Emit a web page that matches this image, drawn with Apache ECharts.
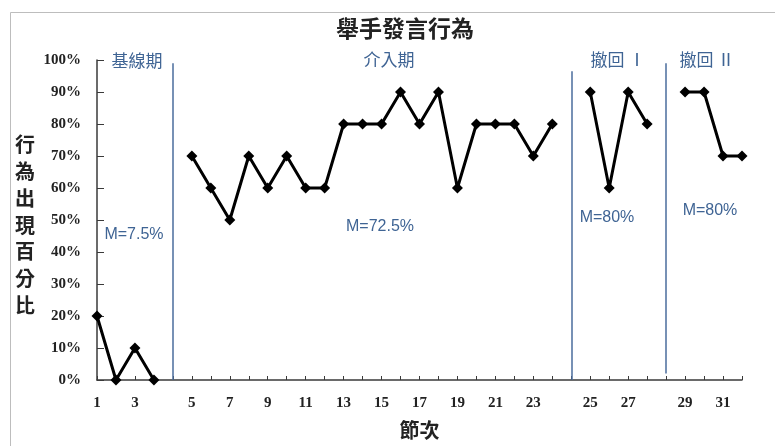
<!DOCTYPE html>
<html>
<head>
<meta charset="utf-8">
<script src="https://cdn.jsdelivr.net/npm/echarts@6/dist/echarts.min.js"></script>
<style>
  html, body { margin: 0; padding: 0; background: #fff; }
  #chart { width: 775px; height: 446px; }
</style>
</head>
<body>
<div id="chart"></div>
<script>
// Session numbers and percentages for each phase of the single-case design
const baselineSessions = [1, 2, 3, 4];
const baselineValues = [20, 0, 10, 0];

const interventionSessions = [5, 6, 7, 8, 9, 10, 11, 12, 13, 14, 15, 16, 17, 18, 19, 20, 21, 22, 23, 24];
const interventionValues = [70, 60, 50, 70, 60, 70, 60, 60, 80, 80, 80, 90, 80, 90, 60, 80, 80, 80, 70, 80];

const withdrawal1Sessions = [25, 26, 27, 28];
const withdrawal1Values = [90, 60, 90, 80];

const withdrawal2Sessions = [29, 30, 31, 32];
const withdrawal2Values = [90, 90, 70, 70];

const phaseNames = ['基線期', '介入期', '撤回 Ⅰ', '撤回 Ⅱ'];
const yTicks = [0, 10, 20, 30, 40, 50, 60, 70, 80, 90, 100];

const phases = [
  { sessions: baselineSessions, values: baselineValues },
  { sessions: interventionSessions, values: interventionValues },
  { sessions: withdrawal1Sessions, values: withdrawal1Values },
  { sessions: withdrawal2Sessions, values: withdrawal2Values }
];

// Build one category axis with an empty slot between phases; the line breaks there.
const categories = [];
const seriesData = [];
const breakIndex = [];
phases.forEach((p, i) => {
  if (i > 0) {
    breakIndex.push(categories.length);
    categories.push(' '.repeat(i));
    seriesData.push(null);
  }
  p.sessions.forEach((s, j) => {
    categories.push(String(s));
    seriesData.push(p.values[j]);
  });
});

const means = phases.map(p => p.values.reduce((a, b) => a + b, 0) / p.values.length);

// Phase divider lines: top and bottom value of each one
const dividerTops = [99, 96.5, 99];
const dividerBottoms = [0, 0, 2];
const dividerColor = '#4a6c9c';
const labelColor = '#3f6494';

const chart = echarts.init(document.getElementById('chart'), null, { renderer: 'canvas' });

const cjk = '"Noto Sans CJK TC", "Noto Sans CJK SC", sans-serif';
const serif = '"Liberation Serif", "DejaVu Serif", serif';
const sans = '"Liberation Sans", Arial, sans-serif';

const phaseLabelPos = [[137, 61], [389, 60], [618, 60], [707, 60]];
const meanLabelPos = [[134, 235], [380, 227], [607, 218], [710, 211]];

const option = {
  animation: false,
  backgroundColor: '#fff',
  grid: { left: 97, right: 33, top: 60, bottom: 66, containLabel: false, outerBoundsMode: 'none' },
  xAxis: {
    type: 'category',
    data: categories,
    boundaryGap: false,
    name: '節次',
    nameLocation: 'middle',
    nameGap: 40,
    nameTextStyle: { fontFamily: cjk, fontSize: 20, fontWeight: 'bold', color: '#222' },
    axisLine: { lineStyle: { color: '#3a3a3a', width: 1.5 } },
    axisTick: { show: true, inside: true, length: 4, interval: 0, lineStyle: { color: '#3a3a3a', width: 1 } },
    axisLabel: {
      interval: (idx, val) => Number(val) % 2 === 1,
      margin: 16,
      fontFamily: serif,
      fontSize: 15,
      fontWeight: 'bold',
      color: '#222'
    },
    splitLine: { show: false }
  },
  yAxis: {
    type: 'value',
    min: yTicks[0],
    max: yTicks[yTicks.length - 1],
    interval: yTicks[1] - yTicks[0],
    axisLine: { show: true, lineStyle: { color: '#3a3a3a', width: 1.5 } },
    axisTick: { show: true, inside: true, length: 7, lineStyle: { color: '#3a3a3a', width: 1 } },
    axisLabel: {
      formatter: '{value}%',
      margin: 16,
      fontFamily: serif,
      fontSize: 15,
      fontWeight: 'bold',
      color: '#222'
    },
    splitLine: { show: false }
  },
  series: [{
    type: 'line',
    data: seriesData,
    connectNulls: false,
    symbol: 'diamond',
    symbolSize: 11,
    lineStyle: { color: '#000', width: 3 },
    itemStyle: { color: '#000' },
    markLine: {
      silent: true,
      symbol: 'none',
      label: { show: false },
      lineStyle: { color: dividerColor, width: 1.5, type: 'solid' },
      data: breakIndex.map((bi, k) => [
        { coord: [bi, dividerTops[k]] },
        { coord: [bi, dividerBottoms[k]] }
      ])
    }
  }],
  graphic: [
    {
      type: 'rect',
      silent: true,
      shape: { x: 10.5, y: 12.5, width: 800, height: 500 },
      style: { fill: 'none', stroke: '#bdbdbd', lineWidth: 1 }
    },
    {
      type: 'text',
      x: 405, y: 28,
      style: {
        text: '舉手發言行為', align: 'center', verticalAlign: 'middle',
        font: 'bold 23px ' + cjk, fill: '#222'
      }
    },
    {
      type: 'text',
      x: 25, y: 225,
      style: {
        text: '行\n為\n出\n現\n百\n分\n比', align: 'center', verticalAlign: 'middle',
        font: 'bold 20px ' + cjk, lineHeight: 26.7, fill: '#222'
      }
    }
  ].concat(
    phaseNames.map((t, i) => ({
      type: 'text', x: phaseLabelPos[i][0], y: phaseLabelPos[i][1],
      style: { text: t, align: 'center', verticalAlign: 'middle', font: '17px ' + cjk, fill: labelColor }
    })),
    means.map((m, i) => ({
      type: 'text', x: meanLabelPos[i][0], y: meanLabelPos[i][1],
      style: { text: 'M=' + m + '%', align: 'center', verticalAlign: 'middle', font: '16px ' + sans, fill: labelColor }
    }))
  )
};

chart.setOption(option);
</script>
</body>
</html>
